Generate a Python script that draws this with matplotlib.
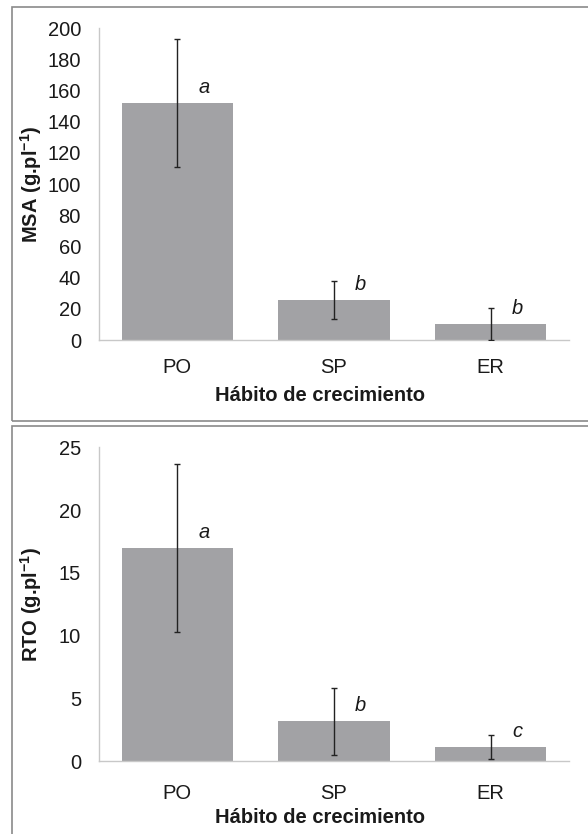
import matplotlib
matplotlib.use("Agg")
import matplotlib.pyplot as plt
from matplotlib.patches import Rectangle

plt.rcParams['font.family'] = ['Liberation Sans', 'DejaVu Sans']
plt.rcParams['mathtext.fontset'] = 'custom'
plt.rcParams['mathtext.rm'] = 'Liberation Sans'
plt.rcParams['mathtext.bf'] = 'Liberation Sans:bold'
plt.rcParams['mathtext.it'] = 'Liberation Sans:italic'

categories = ["PO", "SP", "ER"]
msa_means = [152, 25.5, 10.5]
msa_err = [41, 12.3, 10.3]
msa_letters = ["a", "b", "b"]
rto_means = [17.0, 3.2, 1.15]
rto_err = [6.7, 2.67, 0.95]
rto_letters = ["a", "b", "c"]
xlabel = "Hábito de crecimiento"
msa_label = r"MSA (g.pl$^{\mathbf{-1}}$)"
rto_label = r"RTO (g.pl$^{\mathbf{-1}}$)"
msa_ticks = [0, 20, 40, 60, 80, 100, 120, 140, 160, 180, 200]
rto_ticks = [0, 5, 10, 15, 20, 25]

W, H = 588, 834
fig = plt.figure(figsize=(W / 100, H / 100), dpi=100)

bar_color = "#a2a2a5"
spine_color = "#c8c8c8"
text_color = "#1a1a1a"
FS = 14.5


def panel(rect, means, errs, letters, ticks, ylabel, xpad):
    ax = fig.add_axes(rect)
    x = range(len(categories))
    ax.bar(x, means, width=0.71, color=bar_color, zorder=2)
    ax.errorbar(x, means, yerr=errs, fmt="none", ecolor="#222222",
                elinewidth=1.0, capsize=2.5, capthick=1.0, zorder=3)
    ymax = ticks[-1]
    for xi, m, lt in zip(x, means, letters):
        ax.text(xi + 0.17, m + 0.032 * ymax, lt, style="italic",
                fontsize=FS, ha="center", va="baseline", color=text_color)
    ax.set_xlim(-0.5, len(categories) - 0.5)
    ax.set_ylim(0, ymax)
    ax.set_yticks(ticks)
    ax.set_xticks(list(x))
    ax.set_xticklabels(categories)
    ax.tick_params(axis="both", length=0, labelsize=FS, colors=text_color)
    ax.tick_params(axis="y", pad=13)
    ax.tick_params(axis="x", pad=xpad)
    for s in ["top", "right"]:
        ax.spines[s].set_visible(False)
    for s in ["left", "bottom"]:
        ax.spines[s].set_color(spine_color)
        ax.spines[s].set_linewidth(1.0)
    ax.set_ylabel(ylabel, fontsize=FS, fontweight="bold", color=text_color)
    ax.yaxis.set_label_coords(-0.117, 0.5)
    ax.set_xlabel(xlabel, fontsize=FS, fontweight="bold", color=text_color)
    ax.xaxis.set_label_coords(0.47, -0.148)
    return ax


panel([99 / W, 1 - 340 / H, 470 / W, 312 / H], msa_means, msa_err, msa_letters, msa_ticks, msa_label, 13)
panel([99 / W, 1 - 761.3 / H, 470 / W, 314 / H], rto_means, rto_err, rto_letters, rto_ticks, rto_label, 16)

# panel frames
box_color = "#8a8a8a"
fig.patches.append(Rectangle((12 / W, 1 - 421 / H), 600 / W, 414 / H, transform=fig.transFigure,
                             fill=False, edgecolor=box_color, linewidth=1.2))
fig.patches.append(Rectangle((12 / W, 1 - 850 / H), 600 / W, 424 / H, transform=fig.transFigure,
                             fill=False, edgecolor=box_color, linewidth=1.2))

fig.savefig("out.png", dpi=100, facecolor="white")
